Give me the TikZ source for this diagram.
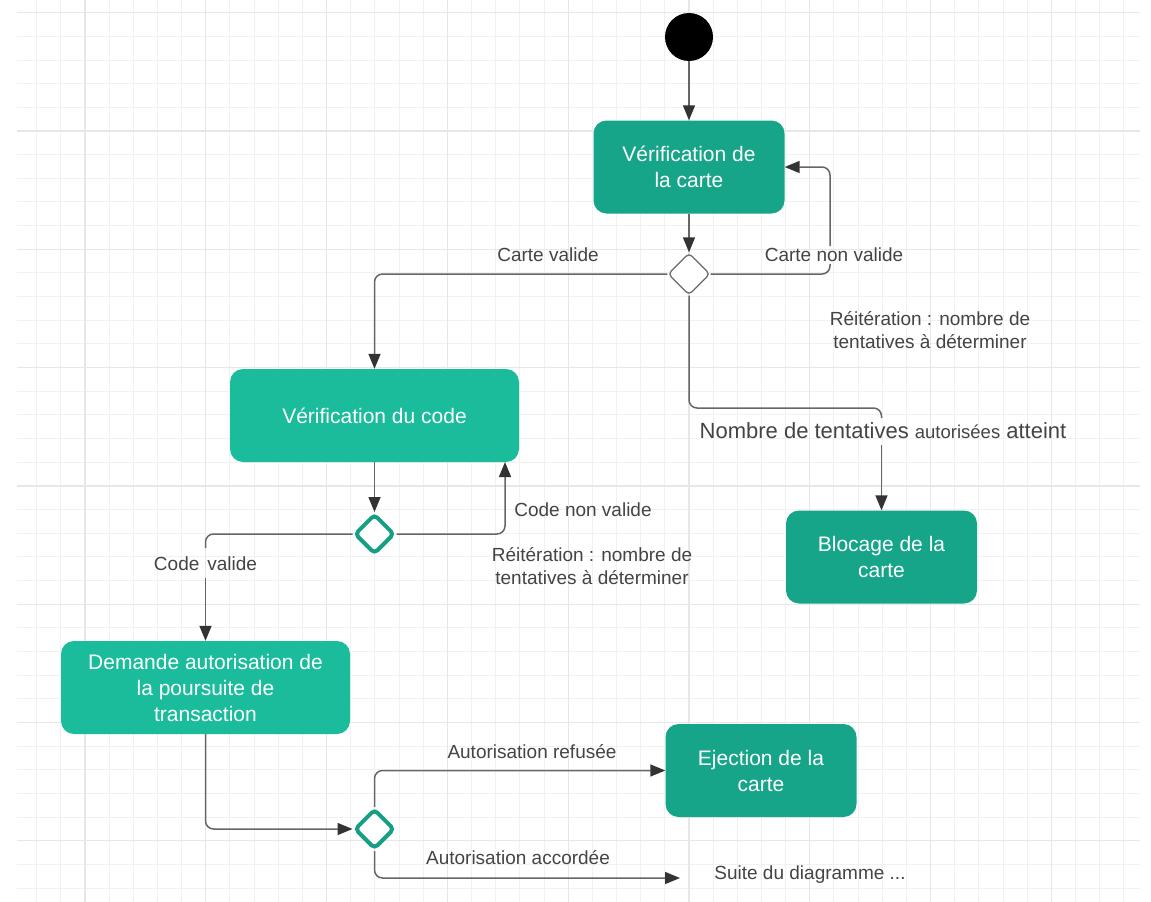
\documentclass[tikz,border=0pt]{standalone}
\usepackage{fontspec}
\setmainfont{Liberation Sans}
\usetikzlibrary{arrows.meta,shapes.geometric}
\definecolor{tealdark}{HTML}{17A589}
\definecolor{teallight}{HTML}{1ABC9C}
\definecolor{tealedge}{HTML}{169F85}
\definecolor{linegray}{HTML}{666666}
\definecolor{tipgray}{HTML}{333333}
\definecolor{labelgray}{HTML}{444444}
\definecolor{choicegray}{HTML}{6A6A6A}
\definecolor{gridminor}{HTML}{F1F1F1}
\definecolor{gridmajor}{HTML}{E7E7E7}

\begin{document}
\begin{tikzpicture}[x=1pt,y=-1pt,
  activity/.style={rounded corners=13pt, minimum width=#1, minimum height=93pt,
    text=white, align=center, font=\fontsize{21}{26}\selectfont, inner sep=0pt},
  darkbox/.style={activity=191pt, fill=tealdark},
  lightbox/.style={activity=289pt, fill=teallight},
  choice/.style={diamond, minimum width=#1, minimum height=#1, inner sep=0pt,
    fill=white, rounded corners=4pt},
  graychoice/.style={choice=42pt, draw=choicegray, line width=1.3pt},
  tealchoice/.style={choice=40pt, draw=tealedge, line width=4pt},
  conn/.style={draw=linegray, line width=1.5pt, rounded corners=8pt},
  arr/.style={conn, -{Triangle[length=15pt,width=12pt,color=tipgray]}},
  lbl/.style={text=labelgray, font=\fontsize{19}{23}\selectfont, inner sep=0pt, align=center}]

% canvas
\useasboundingbox (0,0) rectangle (1151,902);
\fill[white] (0,0) rectangle (1151,902);

% grid paper
\foreach \k in {0,...,45}{
  \pgfmathsetmacro\gx{36.7+24.16*\k}
  \draw[gridminor, line width=1pt] (\gx,0) -- (\gx,902);
}
\foreach \k in {0,...,37}{
  \pgfmathsetmacro\gy{12.7+23.66*\k}
  \draw[gridminor, line width=1pt] (17,\gy) -- (1140,\gy);
}
\foreach \k in {2,7,...,42}{
  \pgfmathsetmacro\gx{36.7+24.16*\k}
  \draw[gridmajor, line width=1.2pt] (\gx,0) -- (\gx,902);
}
\foreach \k in {0,5,...,35}{
  \pgfmathsetmacro\gy{12.7+23.66*\k}
  \draw[gridmajor, line width=1.2pt] (17,\gy) -- (1140,\gy);
}

% activities and decisions
\node[circle, fill=black, minimum size=48pt, inner sep=0pt] (start) at (689,37) {};
\node[darkbox] (verifcarte) at (689,167) {Vérification de\\la carte};
\node[graychoice] (d1) at (689,274) {};
\node[lightbox] (verifcode) at (374.5,415.5) {Vérification du code};
\node[tealchoice] (d2) at (374.5,534) {};
\node[darkbox] (blocage) at (881.5,557) {Blocage de la\\carte};
\node[lightbox] (demande) at (205.5,687.5) {Demande autorisation de\\la poursuite de\\transaction};
\node[tealchoice] (d3) at (374.5,829) {};
\node[darkbox] (ejection) at (761,770.5) {Ejection de la\\carte};

% free ends and breaks of the connectors
\coordinate (cnvlow) at (830,264);
\coordinate (cnvhigh) at (830,246);
\coordinate (ntcorner) at (881.5,408);
\coordinate (ntlow) at (881.5,418);
\coordinate (nthigh) at (881.5,445);
\coordinate (cvlow) at (205.5,548);
\coordinate (cvhigh) at (205.5,578);
\coordinate (codeback) at (505,462);
\coordinate (suite) at (680,878);

% connectors
\draw[arr] (start) -- (verifcarte);
\draw[arr] (verifcarte) -- (d1);
\draw[conn] (d1.east) -| (cnvlow);
\draw[arr] (cnvhigh) |- (verifcarte.east);
\draw[arr] (d1.west) -| (verifcode.north);
\draw[conn] (d1.south) |- (ntcorner) -- (ntlow);
\draw[arr] (nthigh) -- (blocage.north);
\draw[arr] (verifcode.south) -- (d2.north);
\draw[arr] (d2.east) -| (codeback);
\draw[conn] (d2.west) -| (cvlow);
\draw[arr] (cvhigh) -- (demande.north);
\draw[arr] (demande.south) |- (d3.west);
\draw[arr] (d3.north) |- (ejection.west);
\draw[arr] (d3.south) |- (suite);

% labels
\node[lbl] (lcv) at (548,255) {Carte valide};
\node[lbl] (lcnv) at (834,255) {Carte non valide};
\node[lbl] (lreit1) at (930,330) {Réitération : nombre de\\tentatives à déterminer};
\node[lbl, font=\fontsize{22}{26}\selectfont] (lnt) at (883,431)
  {Nombre de tentatives {\fontsize{18.5}{22}\selectfont autorisées} atteint};
\node[lbl] (lcodenv) at (583,510) {Code non valide};
\node[lbl] (lreit2) at (592,566) {Réitération : nombre de\\tentatives à déterminer};
\node[lbl] (lcodev) at (205.5,564) {Code\hspace{8pt}valide};
\node[lbl] (lar) at (532,752) {Autorisation refusée};
\node[lbl] (laa) at (518,858) {Autorisation accordée};
\node[lbl] (lsuite) at (810,875) {Suite du diagramme ...};
\end{tikzpicture}
\end{document}
